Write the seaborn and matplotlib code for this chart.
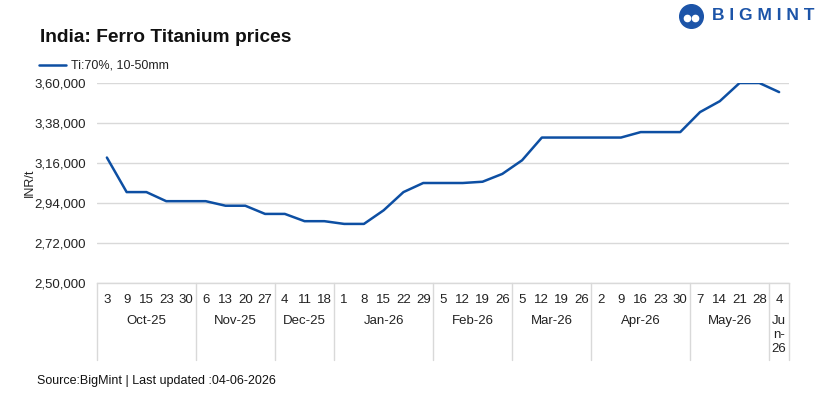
import numpy as np
import pandas as pd
import matplotlib
matplotlib.use("Agg")
import matplotlib.pyplot as plt
import matplotlib.transforms as mtransforms
from matplotlib.ticker import FuncFormatter, FixedLocator
import seaborn as sns

# data
months = ["Oct-25", "Nov-25", "Dec-25", "Jan-26", "Feb-26", "Mar-26", "Apr-26", "May-26", "Jun-26"]
days = [
    [3, 9, 15, 23, 30],
    [6, 13, 20, 27],
    [4, 11, 18],
    [1, 8, 15, 22, 29],
    [5, 12, 19, 26],
    [5, 12, 19, 26],
    [2, 9, 16, 23, 30],
    [7, 14, 21, 28],
    [4],
]
prices = [319000, 300000, 300000, 295000, 295000,
          295000, 292500, 292500, 288000,
          288000, 284000, 284000,
          282500, 282500, 290000, 300000, 305000,
          305000, 305000, 305700, 310000,
          317500, 330000, 330000, 330000,
          330000, 330000, 333000, 333000, 333000,
          344000, 350000, 360000, 360000,
          355000]
series_name = "Ti:70%, 10-50mm"

day_labels = [str(d) for m in days for d in m]
df = pd.DataFrame({"idx": np.arange(len(prices)), "price": prices})

sns.set_style("white")
plt.rcParams["font.family"] = ["Liberation Sans", "DejaVu Sans"]

line_col = "#0d4fa3"
grid_col = "#d9d9d9"

fig = plt.figure(figsize=(8.27, 4.01), dpi=100)
ax = fig.add_axes([97 / 827, 1 - 283 / 401, (789 - 97) / 827, 200 / 401])

sns.lineplot(data=df, x="idx", y="price", ax=ax, color=line_col, linewidth=1.8)

ax.set_xlim(-0.5, len(prices) - 0.5)
ax.set_ylim(250000, 360000)
ax.set_yticks(np.arange(250000, 360001, 22000))


def inr(v, pos):
    s = str(int(round(v)))
    head, tail = s[:-3], s[-3:]
    parts = []
    while len(head) > 2:
        parts.insert(0, head[-2:])
        head = head[:-2]
    if head:
        parts.insert(0, head)
    return ",".join(parts + [tail])


ax.yaxis.set_major_formatter(FuncFormatter(inr))
ax.yaxis.grid(True, color=grid_col, linewidth=1)
ax.tick_params(axis="y", length=0, pad=8, labelsize=9.5, colors="#222222")

for s in ["top", "right", "left"]:
    ax.spines[s].set_visible(False)
ax.spines["bottom"].set_color(grid_col)
ax.spines["bottom"].set_linewidth(1)

ax.set_xticks(np.arange(len(prices)))
ax.set_xticklabels(day_labels)
ax.xaxis.set_minor_locator(FixedLocator(np.arange(len(prices) + 1) - 0.5))
ax.tick_params(axis="x", which="major", length=0, pad=8, labelsize=9.5, colors="#222222")
ax.tick_params(axis="x", which="minor", length=4, color=grid_col, width=1)
ax.set_xlabel("")
ax.set_ylabel("INR/t", fontsize=9, color="#222222", labelpad=-1)

# month groups
trans = mtransforms.blended_transform_factory(ax.transData, ax.transAxes)
start = 0
bounds = [-0.5]
for m, d in zip(months, days):
    end = start + len(d)
    centre = (start + end - 1) / 2
    label = "Ju\nn-\n26" if m == "Jun-26" else m
    ax.text(centre, -0.16, label, transform=trans, ha="center", va="top",
            fontsize=9.5, color="#222222", linespacing=1.25)
    bounds.append(end - 0.5)
    start = end
for b in bounds:
    ax.plot([b, b], [0, -0.385], transform=trans, color=grid_col, lw=1, clip_on=False)

# title, legend, source
fig.text(40 / 827, 1 - 37 / 401, "India: Ferro Titanium prices", fontsize=13.8,
         fontweight="bold", va="center", ha="left", color="#111111")
fig.add_artist(plt.Line2D([39 / 827, 66 / 827], [1 - 65 / 401] * 2, color=line_col, lw=1.8))
fig.text(71 / 827, 1 - 65 / 401, series_name, fontsize=9, va="center", ha="left", color="#222222")
fig.text(37 / 827, 1 - 381 / 401, "Source:BigMint | Last updated :04-06-2026", fontsize=9,
         va="center", ha="left", color="#111111")

# logo
logo_col = "#1c54a8"
fig.add_artist(plt.Line2D([691 / 827], [1 - 16 / 401], marker="o", markersize=17,
                          color=logo_col, linestyle="none"))
fig.add_artist(plt.Line2D([687 / 827, 695 / 827], [1 - 18 / 401] * 2, marker="o",
                          markersize=4.5, color="white", linestyle="none"))
fig.text(712 / 827, 1 - 16 / 401, "B I G M I N T", fontsize=12.5, fontweight="bold",
         color=logo_col, ha="left", va="center")

fig.savefig("out.png", dpi=100)
